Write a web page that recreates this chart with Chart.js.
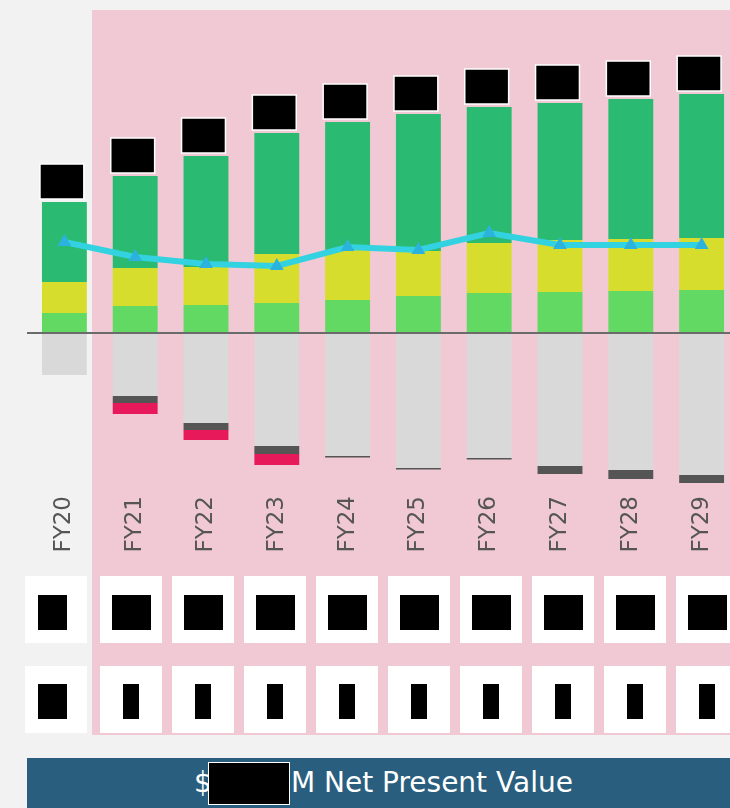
<!DOCTYPE html>
<html>
<head>
<meta charset="utf-8">
<script src="https://cdn.jsdelivr.net/npm/chart.js@4"></script>
<style>
  html, body { margin: 0; padding: 0; }
  body { width: 730px; height: 808px; overflow: hidden; background: #f2f2f2; position: relative; font-family: "DejaVu Sans", sans-serif; }
  #panel { position: absolute; left: 92px; top: 10px; width: 660px; height: 725px; background: #f0c9d4; }
  #chart { position: absolute; left: 0; top: 0; }
  .cell { position: absolute; width: 62px; height: 67px; background: #fff; }
  .cell span { position: absolute; background: #000; height: 35px; }
  #banner { position: absolute; left: 27px; top: 758px; width: 713px; height: 50px; background: #2a5e7e; color: #fff; font-size: 28px; line-height: 50px; text-align: center; white-space: nowrap; }
  #banner .redact { display: inline-block; width: 80px; height: 41px; background: #000; vertical-align: -12px; margin-left: -3px; margin-right: 2px; box-shadow: 0 0 0 1px #fff; }
</style>
</head>
<body>
<div id="panel"></div>
<canvas id="chart" width="745" height="570"></canvas>
<div id="table"></div>
<div id="banner">$<span class="redact"></span>M Net Present Value</div>
<script>
// Chart data ($M)
const categories = ['FY20', 'FY21', 'FY22', 'FY23', 'FY24', 'FY25', 'FY26', 'FY27', 'FY28', 'FY29'];
const baseValues = [10, 13.5, 14, 15, 16.5, 18.5, 20, 20.5, 21, 21.5];
const midValues = [15.5, 19, 19, 24.5, 25, 22.5, 25, 26, 26, 26];
const topValues = [40, 46, 55.5, 60.5, 64, 68.5, 68, 68.5, 70, 72];
const costValues = [-21, -31.5, -45, -56.5, -61.5, -67.5, -62.5, -66.5, -68.5, -71];
const otherCost = [0, -3.5, -3.5, -4, -0.75, -0.75, -0.75, -4, -4.5, -4];
const extraCost = [0, -5.5, -5, -5.5, 0, 0, 0, 0, 0, 0];
const netLine = [45.5, 38, 34.5, 33.5, 43, 41.5, 50, 44, 44, 44];

// redacted value labels above each bar
const redactLabels = {
    id: 'redactLabels',
    afterDatasetsDraw(chart) {
        const ctx = chart.ctx;
        const y = chart.scales.y;
        const meta = chart.getDatasetMeta(2);
        ctx.save();
        meta.data.forEach((bar, i) => {
            const total = baseValues[i] + midValues[i] + topValues[i];
            const top = y.getPixelForValue(total);
            const left = bar.x - bar.width / 2 - 2;
            ctx.fillStyle = '#000';
            ctx.fillRect(left, top - 38, bar.width - 1, 35);
            ctx.strokeStyle = '#fff';
            ctx.lineWidth = 1.5;
            ctx.strokeRect(left, top - 38, bar.width - 1, 35);
        });
        // zero line
        const y0 = y.getPixelForValue(0);
        ctx.strokeStyle = '#6b6b6b';
        ctx.lineWidth = 2;
        ctx.beginPath();
        ctx.moveTo(27, y0);
        ctx.lineTo(745, y0);
        ctx.stroke();
        ctx.restore();
    }
};

const barSet = (data, color) => ({
    type: 'bar',
    data: data,
    backgroundColor: color,
    borderWidth: 0,
    stack: 'bars',
    order: 1,
    barPercentage: 0.634,
    categoryPercentage: 1
});

const chart = new Chart(document.getElementById('chart'), {
    data: {
        labels: categories,
        datasets: [
            barSet(baseValues, '#61d962'),
            barSet(midValues, '#d6dd2c'),
            barSet(topValues, '#2bba72'),
            barSet(costValues, '#d9d9d9'),
            barSet(otherCost, '#555555'),
            barSet(extraCost, '#e8195a'),
            {
                type: 'line',
                data: netLine,
                borderColor: '#33d2e0',
                borderWidth: 6,
                pointStyle: 'triangle',
                pointRadius: 8,
                pointBackgroundColor: '#2bb3de',
                pointBorderWidth: 0,
                tension: 0,
                stack: 'line',
                order: 0
            }
        ]
    },
    options: {
        responsive: false,
        animation: false,
        layout: { padding: { left: 29, right: 6, top: 10, bottom: 13 } },
        plugins: {
            legend: { display: false },
            tooltip: { enabled: false }
        },
        scales: {
            x: {
                stacked: true,
                grid: { display: false },
                border: { display: false },
                ticks: {
                    minRotation: 90,
                    maxRotation: 90,
                    autoSkip: false,
                    padding: 1,
                    color: '#555',
                    font: { family: 'DejaVu Sans', size: 23 }
                },
                afterFit(scale) { scale.height = 70; }
            },
            y: {
                display: false,
                stacked: true,
                min: -77,
                max: 161.5
            }
        }
    },
    plugins: [redactLabels]
});

// value table under the chart (two rows of redacted cells)
const table = document.getElementById('table');
const rowTops = [576, 666];
categories.forEach((c, i) => {
    const center = i === 0 ? 55.5 : 131 + (i - 1) * 72;
    rowTops.forEach((top, r) => {
        const cell = document.createElement('div');
        cell.className = 'cell';
        cell.style.left = (center - 31) + 'px';
        cell.style.top = top + 'px';
        const mark = document.createElement('span');
        const w = i === 0 ? 29 : (r === 0 ? 39 : 16);
        mark.style.width = w + 'px';
        mark.style.left = (i === 0 ? 13 : 31 - w / 2) + 'px';
        mark.style.top = (r === 0 ? 19 : 18) + 'px';
        cell.appendChild(mark);
        table.appendChild(cell);
    });
});
</script>
</body>
</html>
